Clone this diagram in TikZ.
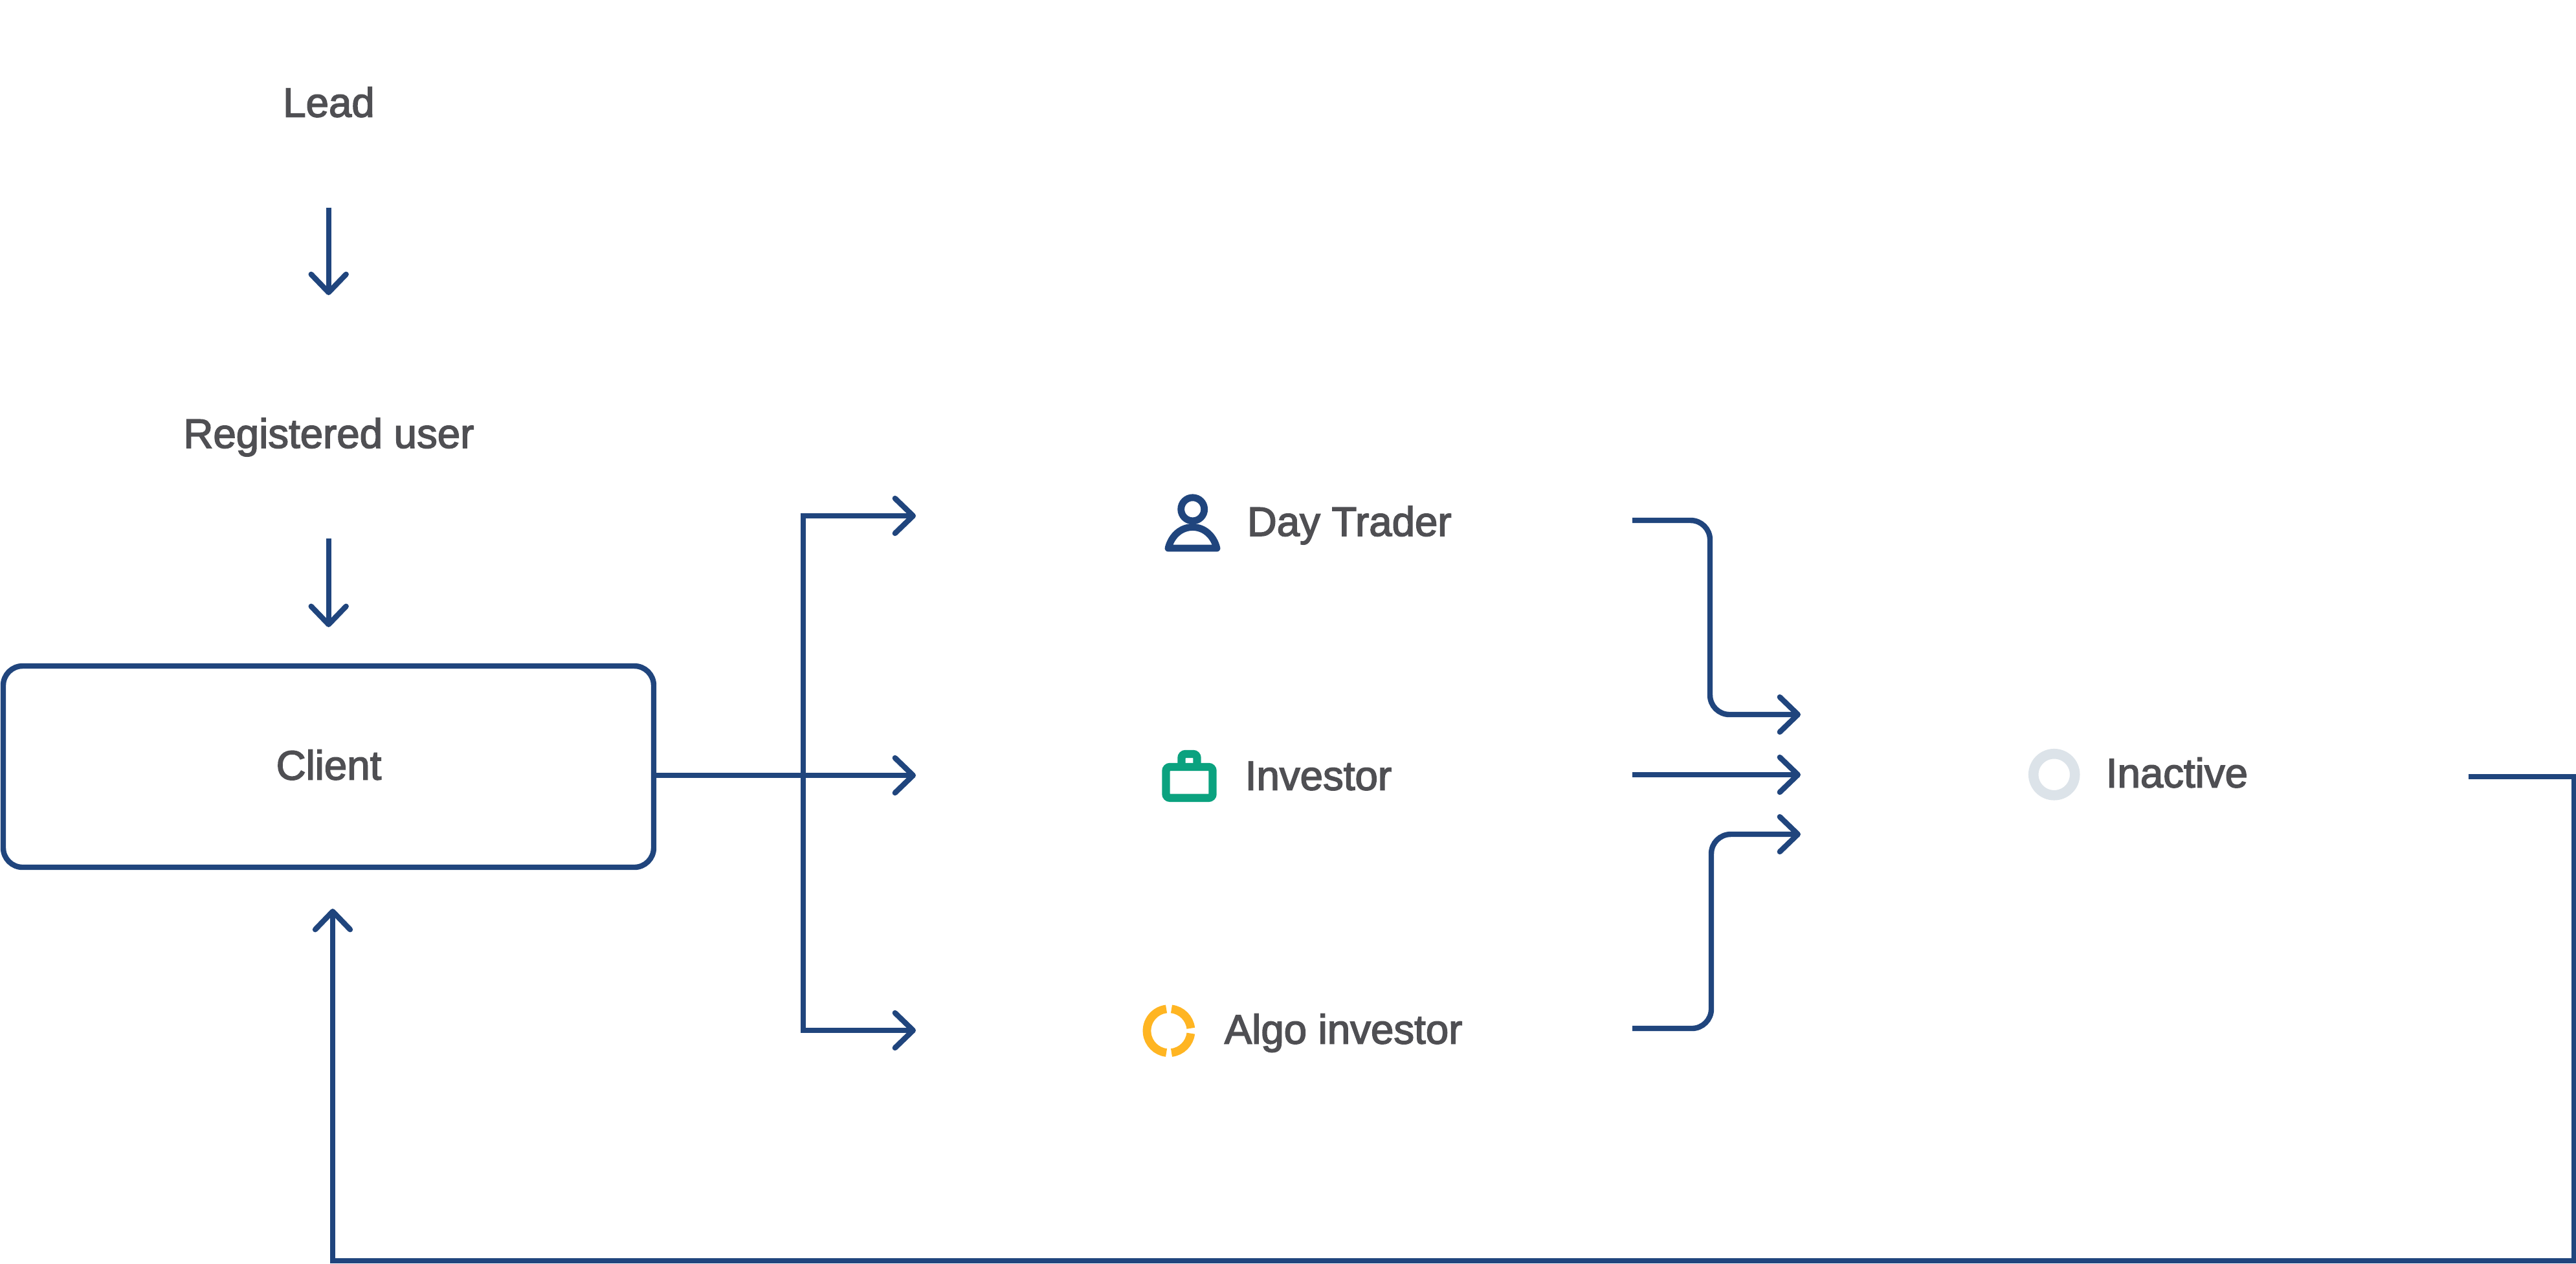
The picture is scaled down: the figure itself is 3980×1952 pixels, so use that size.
\documentclass[tikz,border=0pt]{standalone}
\usepackage{xcolor}
\usepackage{fontspec}
\usepackage{tikz}
\usetikzlibrary{arrows.meta,positioning}
\setmainfont[FakeBold=2.5]{Liberation Sans}
\definecolor{flowblue}{HTML}{20457D}
\definecolor{labelgrey}{HTML}{4F4F53}
\definecolor{briefgreen}{HTML}{0BA27F}
\definecolor{algoyellow}{HTML}{FFB522}
\definecolor{ringgrey}{HTML}{DCE3E9}

\begin{document}
\begin{tikzpicture}[x=0.25pt,y=-0.25pt,
							statename/.style={text=labelgrey,inner sep=0pt,anchor=base west,font=\fontsize{15.9pt}{20pt}\selectfont},
							statebox/.style={draw=flowblue,line width=2.1pt,rounded corners=7.5pt,minimum width=251.25pt,minimum height=77.75pt,inner sep=0pt},
							flow/.style={draw=flowblue,line width=2.1pt,-{Straight Barb[length=7pt,width=13.5pt,round]}},
							turnflow/.style={flow,rounded corners=7.5pt},]
			\useasboundingbox (0,0) rectangle (3980,1952);
			% left column
			\node[statename,anchor=base] (lead) at (508,180.5){Lead};
			\node[statename,anchor=base] (reguser) at (508,692){Registered user};
			\node[statebox] (client) at (507.5,1184.5){};
			\node[statename,anchor=base] (clientname) at (508,1204.5){Client};
			% account types
			\node[statename] (daytrader) at (1926,828){Day Trader};
			\node[statename] (investor) at (1923,1220.5){Investor};
			\node[statename] (algo) at (1891,1612.5){Algo investor};
			\node[statename] (inactive) at (3253,1216.5){Inactive};
			% free ends of the arrows
			\coordinate (leadout) at (507.7,320.5);
			\coordinate (regin) at (507.7,456);
			\coordinate (regout) at (507.7,832);
			\coordinate (clientin) at (507.7,969);
			\coordinate (clientout) at (client.east |- 0,1198);
			\coordinate (split) at (1241,1198);
			\coordinate (dayin) at (1415,797);
			\coordinate (invin) at (1415,1198);
			\coordinate (algoin) at (1415,1592);
			\coordinate (dayout) at (2522,804);
			\coordinate (invout) at (2522,1197);
			\coordinate (algoout) at (2522,1589);
			\coordinate (inactin1) at (2782,1104);
			\coordinate (inactin2) at (2782,1197);
			\coordinate (inactin3) at (2782,1289);
			\coordinate (inactout) at (3814,1200);
			\coordinate (backin) at (514,1404);
			% left column arrows
			\draw[flow] (leadout) -- (regin);
			\draw[flow] (regout) -- (clientin);
			% fan out of the client
			\draw[flow] (clientout) -- (invin);
			\draw[flow] (split) |- (dayin);
			\draw[flow] (split) |- (algoin);
			% into inactive
			\draw[turnflow] (dayout) -| (2642,1104) -- (inactin1);
			\draw[flow] (invout) -- (inactin2);
			\draw[turnflow] (algoout) -| (2644,1289) -- (inactin3);
			% back to the client
			\draw[flow] (inactout) -| (3977,1948) -| (backin);
			% person
			\draw[flowblue,line width=2.7pt] (1842.7,786.8) circle (18);
			\draw[flowblue,line width=2.7pt,line join=round] (1805,847) .. controls (1810,827) and (1825,814.5) .. (1842.7,814.5) .. controls (1860,814.5) and (1875,827) .. (1880,847) -- cycle;
			% briefcase
			\draw[briefgreen,line width=3.1pt,rounded corners=1.5pt] (1801.5,1185) rectangle (1873.5,1232.8);
			\draw[briefgreen,line width=3.1pt,rounded corners=1.5pt] (1825.5,1185) -- (1825.5,1165) -- (1849.5,1165) -- (1849.5,1185);
			% algo ring
			\foreach \from/\to in {96.7/263.3,6.7/83.3,-83.3/-6.7}
				\draw[algoyellow,line width=3.2pt] ({1806+34*cos(\from)},{1592.7-34*sin(\from)}) arc[start angle=\from,end angle=\to,radius=8.5pt];
			% inactive ring
			\draw[ringgrey,line width=3.9pt] (3173.7,1196.7) circle (32);
		\end{tikzpicture}
\end{document}
